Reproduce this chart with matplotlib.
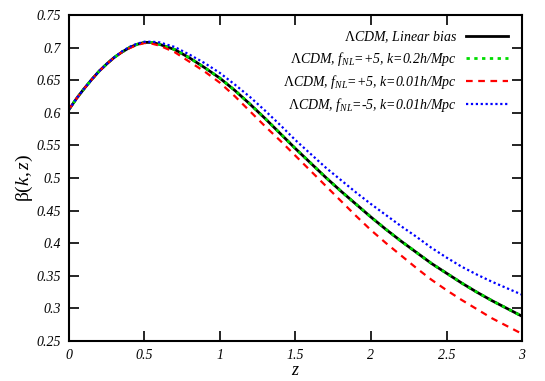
import matplotlib
matplotlib.use("Agg")
import matplotlib.pyplot as plt
from matplotlib.ticker import MultipleLocator, FuncFormatter

plt.rcParams['font.family'] = ['Liberation Serif', 'DejaVu Serif']
plt.rcParams['mathtext.fontset'] = 'custom'
plt.rcParams['mathtext.rm'] = 'Liberation Serif'
plt.rcParams['mathtext.it'] = 'Liberation Serif:italic'

# redshift grid
z = [0.0, 0.05, 0.1, 0.15, 0.2, 0.25, 0.3, 0.35, 0.4, 0.45, 0.5, 0.55, 0.6,
     0.7, 0.8, 0.9, 1.0, 1.1, 1.2, 1.3, 1.4, 1.5, 1.6, 1.7, 1.8, 1.9, 2.0,
     2.1, 2.2, 2.3, 2.4, 2.5, 2.6, 2.7, 2.8, 2.9, 3.0]

beta_linear = [0.605, 0.622, 0.637, 0.651, 0.664, 0.675, 0.685, 0.693, 0.700, 0.705, 0.708, 0.708, 0.705,
               0.697, 0.684, 0.669, 0.653, 0.634, 0.613, 0.591, 0.568, 0.545, 0.523, 0.501, 0.480, 0.460, 0.440,
               0.421, 0.403, 0.386, 0.369, 0.354, 0.339, 0.325, 0.312, 0.300, 0.288]
beta_p5_k02 = list(beta_linear)
beta_p5_k001 = [0.605, 0.622, 0.637, 0.651, 0.664, 0.675, 0.685, 0.693, 0.699, 0.704, 0.707, 0.706, 0.703,
                0.693, 0.678, 0.663, 0.646, 0.625, 0.602, 0.579, 0.557, 0.534, 0.511, 0.488, 0.465, 0.442, 0.420,
                0.400, 0.381, 0.362, 0.344, 0.328, 0.313, 0.299, 0.285, 0.273, 0.261]
beta_m5_k001 = [0.605, 0.622, 0.637, 0.651, 0.664, 0.675, 0.685, 0.694, 0.701, 0.706, 0.709, 0.709, 0.708,
                0.701, 0.689, 0.676, 0.661, 0.643, 0.624, 0.603, 0.581, 0.558, 0.537, 0.516, 0.497, 0.478, 0.460,
                0.443, 0.426, 0.410, 0.393, 0.378, 0.364, 0.352, 0.341, 0.331, 0.321]

labels = [r'$\Lambda$CDM, Linear bias',
          r'$\Lambda$CDM, $f_{NL}$=+5, k=0.2h/Mpc',
          r'$\Lambda$CDM, $f_{NL}$=+5, k=0.01h/Mpc',
          r'$\Lambda$CDM, $f_{NL}$=-5, k=0.01h/Mpc']

fig = plt.figure(figsize=(5.45, 3.81), dpi=100)
ax = fig.add_axes([0.1266, 0.105, 0.8312, 0.8556])

ax.plot(z, beta_linear, color='black', lw=2.0, label=labels[0])
ax.plot(z, beta_p5_k02, color='#00dd00', lw=2.0, linestyle=(0, (1.2, 1.6)), label=labels[1])
ax.plot(z, beta_p5_k001, color='#ff0000', lw=1.6, linestyle=(0, (3, 2.5)), label=labels[2])
ax.plot(z, beta_m5_k001, color='#0000ff', lw=1.6, linestyle=(0, (1, 1.2)), label=labels[3])

ax.set_xlim(0, 3)
ax.set_ylim(0.25, 0.75)
ax.xaxis.set_major_locator(MultipleLocator(0.5))
ax.yaxis.set_major_locator(MultipleLocator(0.05))
fmt = FuncFormatter(lambda v, p: '%g' % round(v, 3))
ax.xaxis.set_major_formatter(fmt)
ax.yaxis.set_major_formatter(fmt)
ax.tick_params(direction='in', length=7, width=1.2, top=True, right=True,
               labelsize=10)
ax.tick_params(axis='x', pad=6)
ax.tick_params(axis='y', pad=6)
for t in ax.get_xticklabels() + ax.get_yticklabels():
    t.set_fontstyle('italic')
for s in ax.spines.values():
    s.set_linewidth(1.5)

ax.set_xlabel(r'$z$', fontsize=13, labelpad=0)
ax.set_ylabel(r'$\mathrm{\beta}(k,z)$', fontsize=14, labelpad=1)

leg = ax.legend(loc='upper right', frameon=False, markerfirst=False,
                handlelength=3.0, handletextpad=0.7,
                labelspacing=0.38, borderaxespad=0.6,
                prop={'style': 'italic', 'size': 10})

fig.savefig('out.png', dpi=100)
